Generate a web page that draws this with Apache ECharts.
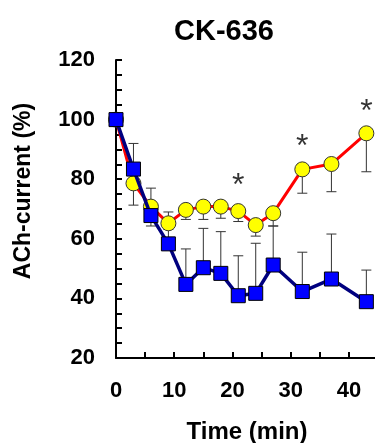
<!DOCTYPE html>
<html>
<head>
<meta charset="utf-8">
<script src="https://cdn.jsdelivr.net/npm/echarts@6/dist/echarts.min.js"></script>
<style>
html,body{margin:0;padding:0;background:#fff;}
#chart{width:375px;height:443px;}
</style>
</head>
<body>
<div id="chart"></div>
<script>
// Data
const times = [0, 3, 6, 9, 12, 15, 18, 21, 24, 27, 32, 37, 43];
const ckValues = [100, 78.6, 70.8, 65.2, 69.7, 70.8, 70.8, 69.3, 64.6, 68.6, 83.3, 85.1, 95.4];
const ckErrLow = [0, 7.3, 6.5, 2, 3.2, 4.3, 3.9, 3.5, 3.7, 4.3, 8, 9.3, 12.9];
const ctrlValues = [100, 83.4, 67.8, 58.3, 44.7, 50.3, 48.4, 40.9, 41.7, 51.2, 42.3, 46.5, 38.9];
const ctrlErrHigh = [0, 8.6, 9.2, 10.7, 11.9, 13.2, 14, 13.4, 16.8, 13.1, 13.2, 15.1, 10.6];
const sigTimes = [21, 32, 43];
const sigLevels = [80, 93, 105];
const yTicks = [20, 40, 60, 80, 100, 120];
const xTicks = [0, 10, 20, 30, 40];

const FONT = '"Liberation Sans", Arial, sans-serif';

function errSeries(vals, errs, dir) {
  return {
    type: 'custom',
    z: 1,
    data: times.map((t, i) => [t, vals[i], errs[i]]),
    renderItem: function (params, api) {
      const t = api.value(0), v = api.value(1), e = api.value(2);
      if (!e) return null;
      const p0 = api.coord([t, v]);
      const p1 = api.coord([t, v + dir * e]);
      const st = { stroke: '#333', lineWidth: 1 };
      return {
        type: 'group',
        children: [
          { type: 'line', shape: { x1: p0[0], y1: p0[1], x2: p1[0], y2: p1[1] }, style: st },
          { type: 'line', shape: { x1: p1[0] - 5, y1: p1[1], x2: p1[0] + 5, y2: p1[1] }, style: st }
        ]
      };
    }
  };
}

const chart = echarts.init(document.getElementById('chart'), null, { renderer: 'canvas' });
chart.setOption({
  animation: false,
  backgroundColor: '#fff',
  title: {
    text: 'CK-636',
    left: 219,
    textAlign: 'center',
    top: 12,
    textStyle: { fontFamily: FONT, fontWeight: 'bold', fontSize: 29, color: '#000' }
  },
  grid: { left: 116, right: -3, top: 60, bottom: 85, containLabel: false, outerBoundsMode: 'none' },
  xAxis: {
    type: 'value',
    min: 0, max: 45, interval: 5,
    name: 'Time (min)',
    nameLocation: 'middle',
    nameGap: 62,
    nameTextStyle: { fontFamily: FONT, fontWeight: 'bold', fontSize: 24, color: '#000' },
    axisLine: { lineStyle: { color: '#000', width: 2 } },
    axisTick: { inside: true, length: 6, lineStyle: { color: '#000', width: 2 } },
    axisLabel: {
      margin: 22,
      fontFamily: FONT, fontWeight: 'bold', fontSize: 22, color: '#000',
      formatter: v => (xTicks.indexOf(v) >= 0 ? String(v) : '')
    },
    splitLine: { show: false }
  },
  yAxis: {
    type: 'value',
    min: 20, max: 120, interval: 20,
    name: 'ACh-current (%)',
    nameLocation: 'middle',
    nameRotate: 90,
    nameGap: 81,
    nameTextStyle: { fontFamily: FONT, fontWeight: 'bold', fontSize: 23, color: '#000', padding: [0, 0, 0, 36] },
    axisLine: { show: true, lineStyle: { color: '#000', width: 2 } },
    axisTick: { inside: true, length: 6, lineStyle: { color: '#000', width: 2 } },
    minorTick: { show: true, splitNumber: 4, length: 6, lineStyle: { color: '#000', width: 2 } },
    axisLabel: {
      margin: 21,
      fontFamily: FONT, fontWeight: 'bold', fontSize: 22, color: '#000',
      formatter: v => (yTicks.indexOf(v) >= 0 ? String(v) : '')
    },
    splitLine: { show: false }
  },
  series: [
    errSeries(ckValues, ckErrLow, -1),
    errSeries(ctrlValues, ctrlErrHigh, 1),
    {
      name: 'CK-636',
      type: 'line',
      z: 2,
      data: times.map((t, i) => [t, ckValues[i]]),
      symbol: 'circle',
      symbolSize: 15,
      lineStyle: { color: '#ff0000', width: 3 },
      itemStyle: { color: '#ffff00', borderColor: '#333', borderWidth: 1 }
    },
    {
      name: 'Control',
      type: 'line',
      z: 3,
      data: times.map((t, i) => [t, ctrlValues[i]]),
      symbol: 'rect',
      symbolSize: 14,
      lineStyle: { color: '#00007f', width: 3.5 },
      itemStyle: { color: '#0000ff', borderColor: '#000', borderWidth: 1 }
    },
    {
      type: 'scatter',
      z: 4,
      data: sigTimes.map((t, i) => [t, sigLevels[i]]),
      symbolSize: 0,
      silent: true,
      label: {
        show: true,
        position: 'inside',
        formatter: '*',
        fontFamily: FONT,
        fontSize: 32,
        color: '#000',
        offset: [0, 7]
      }
    }
  ]
});
</script>
</body>
</html>
